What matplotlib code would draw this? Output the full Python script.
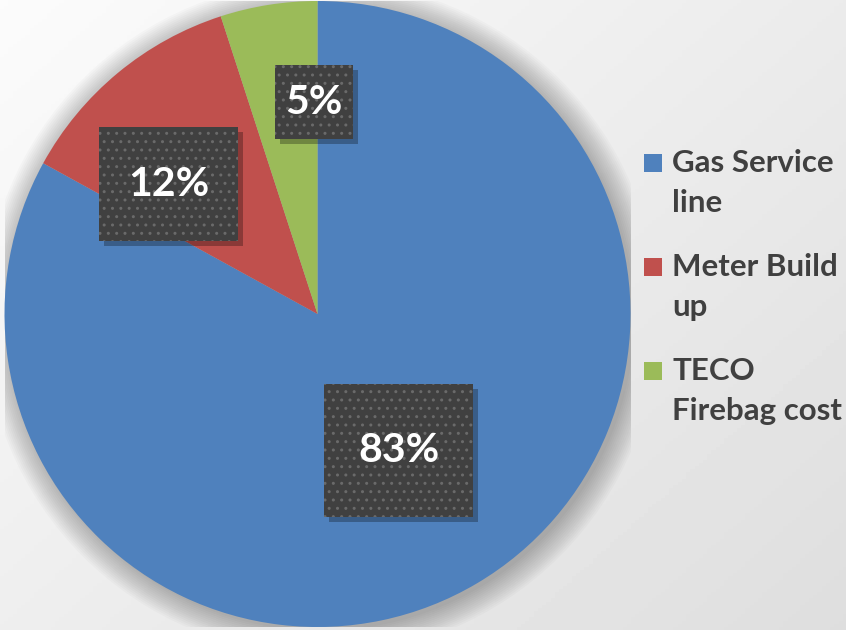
import numpy as np
import matplotlib
matplotlib.use("Agg")
import matplotlib.pyplot as plt
from matplotlib.patches import Rectangle, Circle

categories = ["Gas Service\nline", "Meter Build\nup", "TECO\nFirebag cost"]
values = [83, 12, 5]
colors = ["#4f81bd", "#c0504d", "#9bbb59"]
# label box centres (in pie-radius units) and sizes
label_pos = [(0.26, -0.435), (-0.475, 0.415), (-0.01, 0.677)]
label_size = [(0.476, 0.425), (0.444, 0.364), (0.249, 0.236)]

FONT = ["Lato", "DejaVu Sans"]
plt.rcParams["hatch.linewidth"] = 1.0

fig = plt.figure(figsize=(8.46, 6.30), dpi=100)

# background gradient
bg = fig.add_axes([0, 0, 1, 1], zorder=-10)
yy, xx = np.mgrid[0:1:200j, 0:1:200j]
g = 0.985 - 0.115 * (0.55 * xx + 0.45 * yy)
bg.imshow(g, cmap="gray", vmin=0, vmax=1, extent=[0, 1, 0, 1], aspect="auto", origin="upper")
bg.set_axis_off()

# pie axes
cx, cy, R = 317.5, 630 - 314, 313
ax = fig.add_axes([(cx - R) / 846, (cy - R) / 630, 2 * R / 846, 2 * R / 630])
ax.set_xlim(-1, 1)
ax.set_ylim(-1, 1)
ax.set_aspect("equal")
ax.set_axis_off()

# soft shadow around pie
for i in range(14):
    ax.add_patch(Circle((0.012, -0.012), 1.0 + i * 0.006, color="black", alpha=0.018, lw=0, zorder=0))

wedges, _ = ax.pie(values, colors=colors, startangle=90, counterclock=False,
                   radius=1, wedgeprops=dict(linewidth=0))
for w in wedges:
    w.set_zorder(1)
ax.set_xlim(-1, 1)
ax.set_ylim(-1, 1)

total = sum(values)
for v, (px, py), (bw, bh) in zip(values, label_pos, label_size):
    # shadow
    ax.add_patch(Rectangle((px - bw / 2 + 0.016, py - bh / 2 - 0.016), bw, bh,
                           facecolor="black", alpha=0.28, lw=0, zorder=3))
    ax.add_patch(Rectangle((px - bw / 2, py - bh / 2), bw, bh,
                           facecolor="#404040", edgecolor="#6a6a6a", hatch="..",
                           lw=0, zorder=4))
    ax.text(px, py, f"{v / total * 100:.0f}%", color="white", fontsize=29.5,
            fontweight="bold", family=FONT, ha="center", va="center", zorder=5)

# legend (manual)
for i, (lab, c) in enumerate(zip(categories, colors)):
    base = 172 + i * 104
    fig.patches.append(Rectangle((644 / 846, (630 - base) / 630), 18 / 846, 18 / 630,
                                 transform=fig.transFigure, facecolor=c, lw=0))
    for j, line in enumerate(lab.split("\n")):
        fig.text(672 / 846, (630 - base - 40 * j) / 630, line, color="#404040", fontsize=22.5,
                 fontweight="bold", family=FONT, ha="left", va="baseline")

fig.savefig("out.png", dpi=100)
